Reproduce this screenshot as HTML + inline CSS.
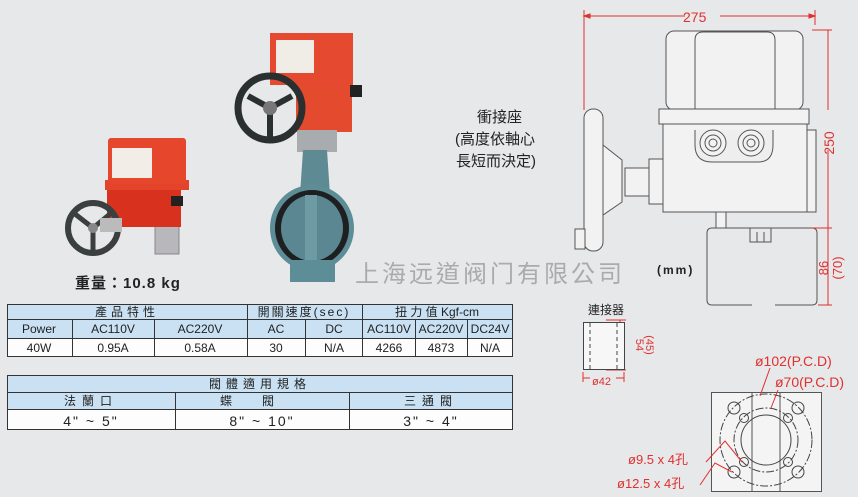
<!DOCTYPE html>
<html><head><meta charset="utf-8"><style>
html,body{margin:0;padding:0;background:#e7e8e9;}
svg{display:block}
text{font-family:"Liberation Sans","Noto Sans CJK TC",sans-serif;}
</style></head><body>
<svg width="858" height="497" viewBox="0 0 858 497" xmlns="http://www.w3.org/2000/svg">
<rect width="858" height="497" fill="#e7e8e9"/>

<rect x="155" y="212" width="24" height="42" fill="#b8b8bc" stroke="#888"/>
<rect x="107" y="183" width="74" height="44" fill="#d8321f"/>
<rect x="105" y="180" width="84" height="10" fill="#e2432a"/>
<rect x="108" y="138" width="78" height="46" fill="#e5462c" rx="3"/>
<rect x="112" y="148" width="40" height="30" fill="#f2ede6"/>
<rect x="171" y="196" width="12" height="10" fill="#222"/>
<circle cx="93" cy="228" r="25" fill="none" stroke="#3a3f3f" stroke-width="6"/>
<path d="M93 228 L75 214 M93 228 L110 214 M93 228 L93 252" stroke="#3a3f3f" stroke-width="5"/>
<rect x="100" y="218" width="22" height="14" fill="#bbb"/>
<circle cx="93" cy="228" r="5" fill="#888"/>

<rect x="296" y="82" width="56" height="50" fill="#e44a2e"/>
<rect x="270" y="33" width="83" height="52" fill="#e54a31"/>
<rect x="276" y="40" width="38" height="33" fill="#f0ece6"/>
<rect x="350" y="85" width="12" height="12" fill="#222"/>
<rect x="297" y="130" width="40" height="22" fill="#a9acae"/>
<path d="M303 150 L327 150 L330 195 L300 195 Z" fill="#5e8a93"/>
<ellipse cx="312" cy="228" rx="42" ry="43" fill="#5d8d96"/>
<ellipse cx="312" cy="228" rx="37" ry="38" fill="#1d1f21"/>
<ellipse cx="312" cy="228" rx="31" ry="33" fill="#5a8791"/>
<rect x="305" y="195" width="12" height="66" fill="#6e9aa3"/>
<path d="M290 260 L335 260 L335 282 L290 282 Z" fill="#5d8d96"/>
<circle cx="270" cy="108" r="32" fill="none" stroke="#2a2f30" stroke-width="7"/>
<path d="M270 108 L248 96 M270 108 L292 96 M270 108 L270 138" stroke="#2a2f30" stroke-width="6"/>
<circle cx="270" cy="108" r="7" fill="#777"/>

<text x="75" y="288" font-size="15" font-weight="bold" fill="#222" letter-spacing="1">重量：10.8 kg</text>

<text x="355" y="282" font-size="24" fill="#a9abad" letter-spacing="3">上海远道阀门有限公司</text>
<text x="657" y="274" font-size="12" font-weight="bold" fill="#222" letter-spacing="2">(mm)</text>

<text x="477" y="122" font-size="15" fill="#222">衝接座</text>
<text x="455" y="144" font-size="15" fill="#222">(高度依軸心</text>
<text x="456" y="166" font-size="15" fill="#222">長短而決定)</text>

<g font-size="12" fill="#222" text-anchor="middle">
<rect x="7" y="304" width="506" height="15" fill="#c9e1f3"/>
<rect x="7" y="319" width="506" height="19" fill="#c9e1f3"/>
<rect x="7" y="338" width="506" height="19" fill="#fdfdfd"/>
<g stroke="#333" stroke-width="1" fill="none">
<rect x="7.5" y="304.5" width="505" height="52"/>
<path d="M7 319.5H513M7 338.5H513M247.5 304V357M362.5 304V357M72.5 319V357M154.5 319V357M305.5 319V357M415.5 319V357M467.5 319V357"/>
</g>
<text x="127" y="316" letter-spacing="4">產品特性</text>
<text x="304" y="316" letter-spacing="2">開關速度(sec)</text>
<text x="437" y="316">扭 力 值 Kgf-cm</text>
<text x="39" y="333">Power</text><text x="113" y="333">AC110V</text><text x="200" y="333">AC220V</text>
<text x="276" y="333">AC</text><text x="334" y="333">DC</text><text x="389" y="333">AC110V</text><text x="441" y="333">AC220V</text><text x="490" y="333">DC24V</text>
<text x="39" y="352">40W</text><text x="113" y="352">0.95A</text><text x="200" y="352">0.58A</text>
<text x="276" y="352">30</text><text x="334" y="352">N/A</text><text x="389" y="352">4266</text><text x="441" y="352">4873</text><text x="490" y="352">N/A</text>
</g>

<g font-size="12" fill="#222" text-anchor="middle">
<rect x="7" y="375" width="506" height="35" fill="#c9e1f3"/>
<rect x="7" y="410" width="506" height="20" fill="#fdfdfd"/>
<g stroke="#333" stroke-width="1" fill="none">
<rect x="7.5" y="375.5" width="505" height="54"/>
<path d="M7 392.5H513M7 409.5H513M175.5 392V430M349.5 392V430"/>
</g>
<text x="260" y="388" letter-spacing="5">閥體適用規格</text>
<text x="91" y="405" letter-spacing="6">法蘭口</text>
<text x="262" y="405" letter-spacing="30">蝶閥</text>
<text x="431" y="405" letter-spacing="6">三通閥</text>
<text x="91" y="426" font-size="14" letter-spacing="2">4" ~ 5"</text>
<text x="262" y="426" font-size="14" letter-spacing="2">8" ~ 10"</text>
<text x="431" y="426" font-size="14" letter-spacing="2">3" ~ 4"</text>
</g>

<g stroke="#555" stroke-width="1" fill="#f2f2f2">
<rect x="666" y="31" width="137" height="79" rx="8"/>
<path d="M695 110 V40 Q695 32 703 32 H767 Q775 32 775 40 V110" fill="none"/>
<rect x="659" y="109" width="150" height="15"/>
<rect x="663" y="124" width="144" height="88"/>
<rect x="807" y="130" width="9" height="82"/>
<path d="M695 130 V145 Q695 162 712 162 H758 Q773 162 773 145 V130" fill="#eee"/>
<circle cx="713" cy="143" r="13"/><circle cx="713" cy="143" r="8"/><circle cx="713" cy="143" r="4"/>
<circle cx="751" cy="143" r="13"/><circle cx="751" cy="143" r="8"/><circle cx="751" cy="143" r="4"/>
<rect x="649" y="159" width="14" height="45"/>
<rect x="625" y="168" width="24" height="28"/>
<path d="M603 145 L622 160 L622 202 L603 215 Z"/>
<rect x="584" y="109" width="19" height="142" rx="9"/>
<rect x="716" y="212" width="10" height="16"/>
<path d="M752 305 H812 Q817 305 817 300 V233 Q817 228 812 228 H712 Q707 228 707 233 V300 Q707 305 712 305 H752" fill="none"/>
<path d="M750 228 V242 H771 V228 M757 232 V242 M764 232 V242" fill="none"/>
<rect x="575" y="229" width="10" height="20"/>
</g>
<rect x="752" y="296" width="23" height="12" fill="#e7e8e9"/>

<g stroke="#e03030" stroke-width="1" fill="none">
<path d="M584 10 V110 M815 10 V25 M584 16 H685 M720 16 H815"/>
<path d="M584 16 l6 -2 v4 z M815 16 l-6 -2 v4 z" fill="#e03030"/>
<path d="M812 30 H832 M828 30 V110 M828 150 V228 M812 228 H832 M828 228 V305 M818 305 H832"/>
<path d="M606 320 H626 M606 370 H626 M620 320 V370"/>
<path d="M583 372 V382 M624 372 V382 M583 378 H590 M616 378 H624"/>
</g>
<text x="0" y="0" transform="translate(834 143) rotate(-90)" font-size="14" fill="#e03030" text-anchor="middle">250</text>
<text x="683" y="22" font-size="14" fill="#e03030">275</text>
<text x="0" y="0" transform="translate(828 268) rotate(-90)" font-size="13" fill="#e03030" text-anchor="middle">86</text>
<text x="0" y="0" transform="translate(842 268) rotate(-90)" font-size="13" fill="#e03030" text-anchor="middle">(70)</text>

<text x="588" y="314" font-size="12" fill="#222">連接器</text>
<rect x="583.5" y="322.5" width="41" height="47" fill="#f7f7f7" stroke="#444"/>
<path d="M590 323 V370 M617 323 V370" stroke="#444" stroke-dasharray="4 3"/>
<text x="0" y="0" transform="translate(636 345) rotate(90)" font-size="11" fill="#e03030" text-anchor="middle">54</text>
<text x="0" y="0" transform="translate(646 345) rotate(90)" font-size="11" fill="#e03030" text-anchor="middle">(45)</text>
<text x="592" y="385" font-size="11" fill="#e03030">ø42</text>

<rect x="711.5" y="392.5" width="110" height="99" fill="#f4f4f4" stroke="#555"/>
<path d="M752 392 V492 M780 392 V492" stroke="#555"/>
<g fill="none" stroke="#444">
<circle cx="766" cy="440" r="46" stroke-dasharray="8 2 2 2"/>
<circle cx="766" cy="440" r="32" stroke-dasharray="8 2 2 2"/>
<circle cx="766" cy="440" r="25"/>
<circle cx="734" cy="408" r="6"/><circle cx="798" cy="408" r="6"/><circle cx="734" cy="472" r="6"/><circle cx="798" cy="472" r="6"/>
<circle cx="744" cy="418" r="4.5"/><circle cx="788" cy="418" r="4.5"/><circle cx="744" cy="462" r="4.5"/><circle cx="788" cy="462" r="4.5"/>
</g>
<path d="M770 368 L760 396 M778 390 L771 408 M706 462 L725 441 L742 462 M700 485 L715 463 L732 472" stroke="#e03030" fill="none"/>
<text x="755" y="366" font-size="14" fill="#e03030">ø102(P.C.D)</text>
<text x="775" y="387" font-size="14" fill="#e03030">ø70(P.C.D)</text>
<text x="628" y="464" font-size="13" fill="#e03030">ø9.5 x 4孔</text>
<text x="617" y="488" font-size="13" fill="#e03030">ø12.5 x 4孔</text>
</svg>
</body></html>
